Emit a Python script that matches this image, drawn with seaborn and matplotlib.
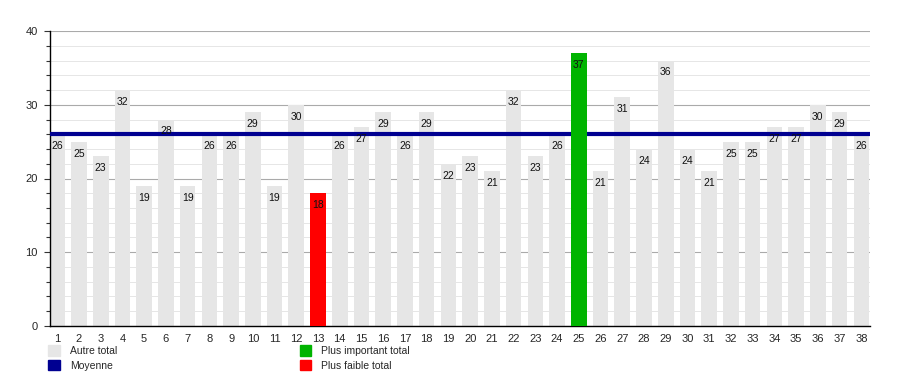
import numpy as np
import pandas as pd
import seaborn as sns
import matplotlib.pyplot as plt
from matplotlib.patches import Patch

# data
categories = [str(i) for i in range(1, 39)]
totals = [26, 25, 23, 32, 19, 28, 19, 26, 26, 29,
          19, 30, 18, 26, 27, 29, 26, 29, 22, 23,
          21, 32, 23, 26, 37, 21, 31, 24, 36, 24,
          21, 25, 25, 27, 27, 30, 29, 26]
legend_labels = ["Autre total", "Moyenne", "Plus important total", "Plus faible total"]

grey, navy, green, red = "#e6e6e6", "#000091", "#00b400", "#ff0000"

df = pd.DataFrame({"cat": categories, "total": totals})
mean_val = np.mean(totals)
imax, imin = int(np.argmax(totals)), int(np.argmin(totals))
colors = [grey] * len(totals)
colors[imax] = green
colors[imin] = red

sns.set_style("white")
plt.rcParams['font.family'] = ['Liberation Sans', 'DejaVu Sans']

fig = plt.figure(figsize=(9, 3.75), dpi=100)
ax = fig.add_axes([0.0556, 0.1307, 0.9111, 0.7866])

sns.barplot(data=df, x="cat", y="total", hue="cat", palette=colors,
            legend=False, width=0.72, saturation=1, ax=ax)
for i, p in enumerate(ax.patches):
    p.set_zorder(4 if i in (imax, imin) else 2)
    p.set_edgecolor("none")

ax.axhline(mean_val, color=navy, lw=3, zorder=3)

for i, v in enumerate(totals):
    ax.annotate(str(v), (i, v), xytext=(0, -5), textcoords="offset points",
                ha="center", va="top", fontsize=7.5, color="#111111", zorder=5)

ax.set_ylim(0, 40)
ax.set_xlim(-0.33, 37.4)
ax.set_yticks([0, 10, 20, 30, 40])
ax.set_yticks(np.arange(0, 41, 2), minor=True)
ax.grid(axis="y", which="major", color="#aaaaaa", lw=0.8, zorder=0)
ax.grid(axis="y", which="minor", color="#e6e6e6", lw=0.7, zorder=0)
ax.set_axisbelow(True)
ax.tick_params(axis="y", which="both", left=True, length=4, width=0.8,
               labelsize=8, pad=5, color="#333333")
ax.tick_params(axis="y", which="minor", length=3)
ax.tick_params(axis="x", bottom=False, labelsize=8, pad=2)
ax.set_xlabel("")
ax.set_ylabel("")
for s in ["top", "right"]:
    ax.spines[s].set_visible(False)
for s in ["left", "bottom"]:
    ax.spines[s].set_color("black")
    ax.spines[s].set_linewidth(1)

h1 = [Patch(color=grey, label=legend_labels[0]), Patch(color=navy, label=legend_labels[1])]
h2 = [Patch(color=green, label=legend_labels[2]), Patch(color=red, label=legend_labels[3])]
kw = dict(loc="upper left", frameon=False, fontsize=7.5, handlelength=1.15,
          handleheight=1.15, handletextpad=0.9, labelspacing=0.38, borderpad=0)
fig.legend(handles=h1, bbox_to_anchor=(0.048, 0.093), **kw)
fig.legend(handles=h2, bbox_to_anchor=(0.327, 0.093), **kw)

fig.savefig("out.png", dpi=100)
